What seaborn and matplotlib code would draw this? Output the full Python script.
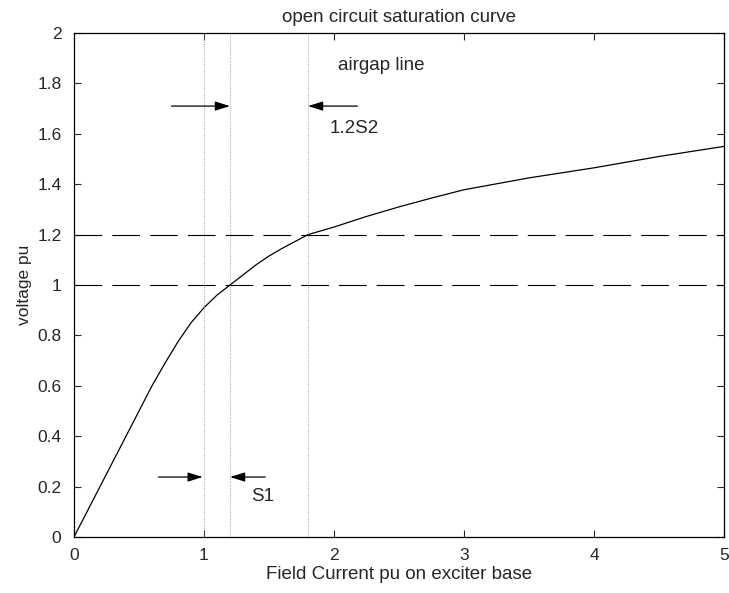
import seaborn as sns
import matplotlib.pyplot as plt
import numpy as np
import pandas as pd

# saturation curve
field_current = [0, 0.2, 0.4, 0.6, 0.7, 0.8, 0.9, 1.0, 1.1, 1.2, 1.3, 1.4, 1.5, 1.6,
                 1.8, 2.0, 2.25, 2.5, 2.75, 3.0, 3.5, 4.0, 4.5, 5.0]
voltage = [0, 0.2, 0.4, 0.6, 0.69, 0.775, 0.85, 0.91, 0.96, 1.0, 1.04, 1.08, 1.115, 1.145,
           1.2, 1.23, 1.272, 1.31, 1.345, 1.378, 1.425, 1.465, 1.51, 1.55]

ref_voltages = [1.0, 1.2]
ref_currents = [1.0, 1.2, 1.8]

# arrows: (from x, to x, y)
arrows = [(0.75, 1.2, 1.71), (2.18, 1.8, 1.71), (0.65, 0.99, 0.238), (1.47, 1.2, 0.238)]
labels = [("airgap line", 2.03, 1.87), ("1.2S2", 1.97, 1.62), ("S1", 1.36, 0.16)]

sns.set_style("ticks")
plt.rcParams["font.family"] = ["Liberation Sans", "DejaVu Sans"]

fig = plt.figure(figsize=(7.29, 5.93), dpi=100)
ax = fig.add_axes([74 / 729, 56 / 593, 650 / 729, 504 / 593])

df = pd.DataFrame({"If": field_current, "V": voltage})
sns.lineplot(data=df, x="If", y="V", ax=ax, color="black", linewidth=0.9, sort=False)

for v in ref_voltages:
    ax.axhline(v, color="black", linewidth=0.8, dashes=(25, 9))
for c in ref_currents:
    ax.axvline(c, color="0.5", linewidth=0.6, linestyle=":")

for x0, x1, y in arrows:
    ax.annotate("", xy=(x1, y), xytext=(x0, y),
                arrowprops=dict(arrowstyle="-|>,head_length=0.9,head_width=0.28",
                                color="black", lw=0.9, shrinkA=0, shrinkB=0))
for txt, x, y in labels:
    ax.text(x, y, txt, fontsize=13.5, va="center", ha="left")

ax.set_xlim(0, 5)
ax.set_ylim(0, 2)
ax.set_xticks(np.arange(0, 6, 1))
ax.set_yticks(np.arange(0, 2.01, 0.2))
ax.set_xticklabels([str(t) for t in range(6)])
ax.set_yticklabels(["0", "0.2", "0.4", "0.6", "0.8", "1", "1.2", "1.4", "1.6", "1.8", "2"])
ax.tick_params(direction="in", top=True, right=True, length=5, width=0.8, labelsize=12.5)
ax.tick_params(axis="x", pad=8)
ax.tick_params(axis="y", pad=9)
for s in ax.spines.values():
    s.set_linewidth(0.9)
    s.set_color("black")

ax.set_title("open circuit saturation curve", fontsize=13.5, pad=8)
ax.set_xlabel("Field Current pu on exciter base", fontsize=13.5, labelpad=2)
ax.set_ylabel("voltage pu", fontsize=12.5, labelpad=4)

fig.savefig("out.png", dpi=100)
